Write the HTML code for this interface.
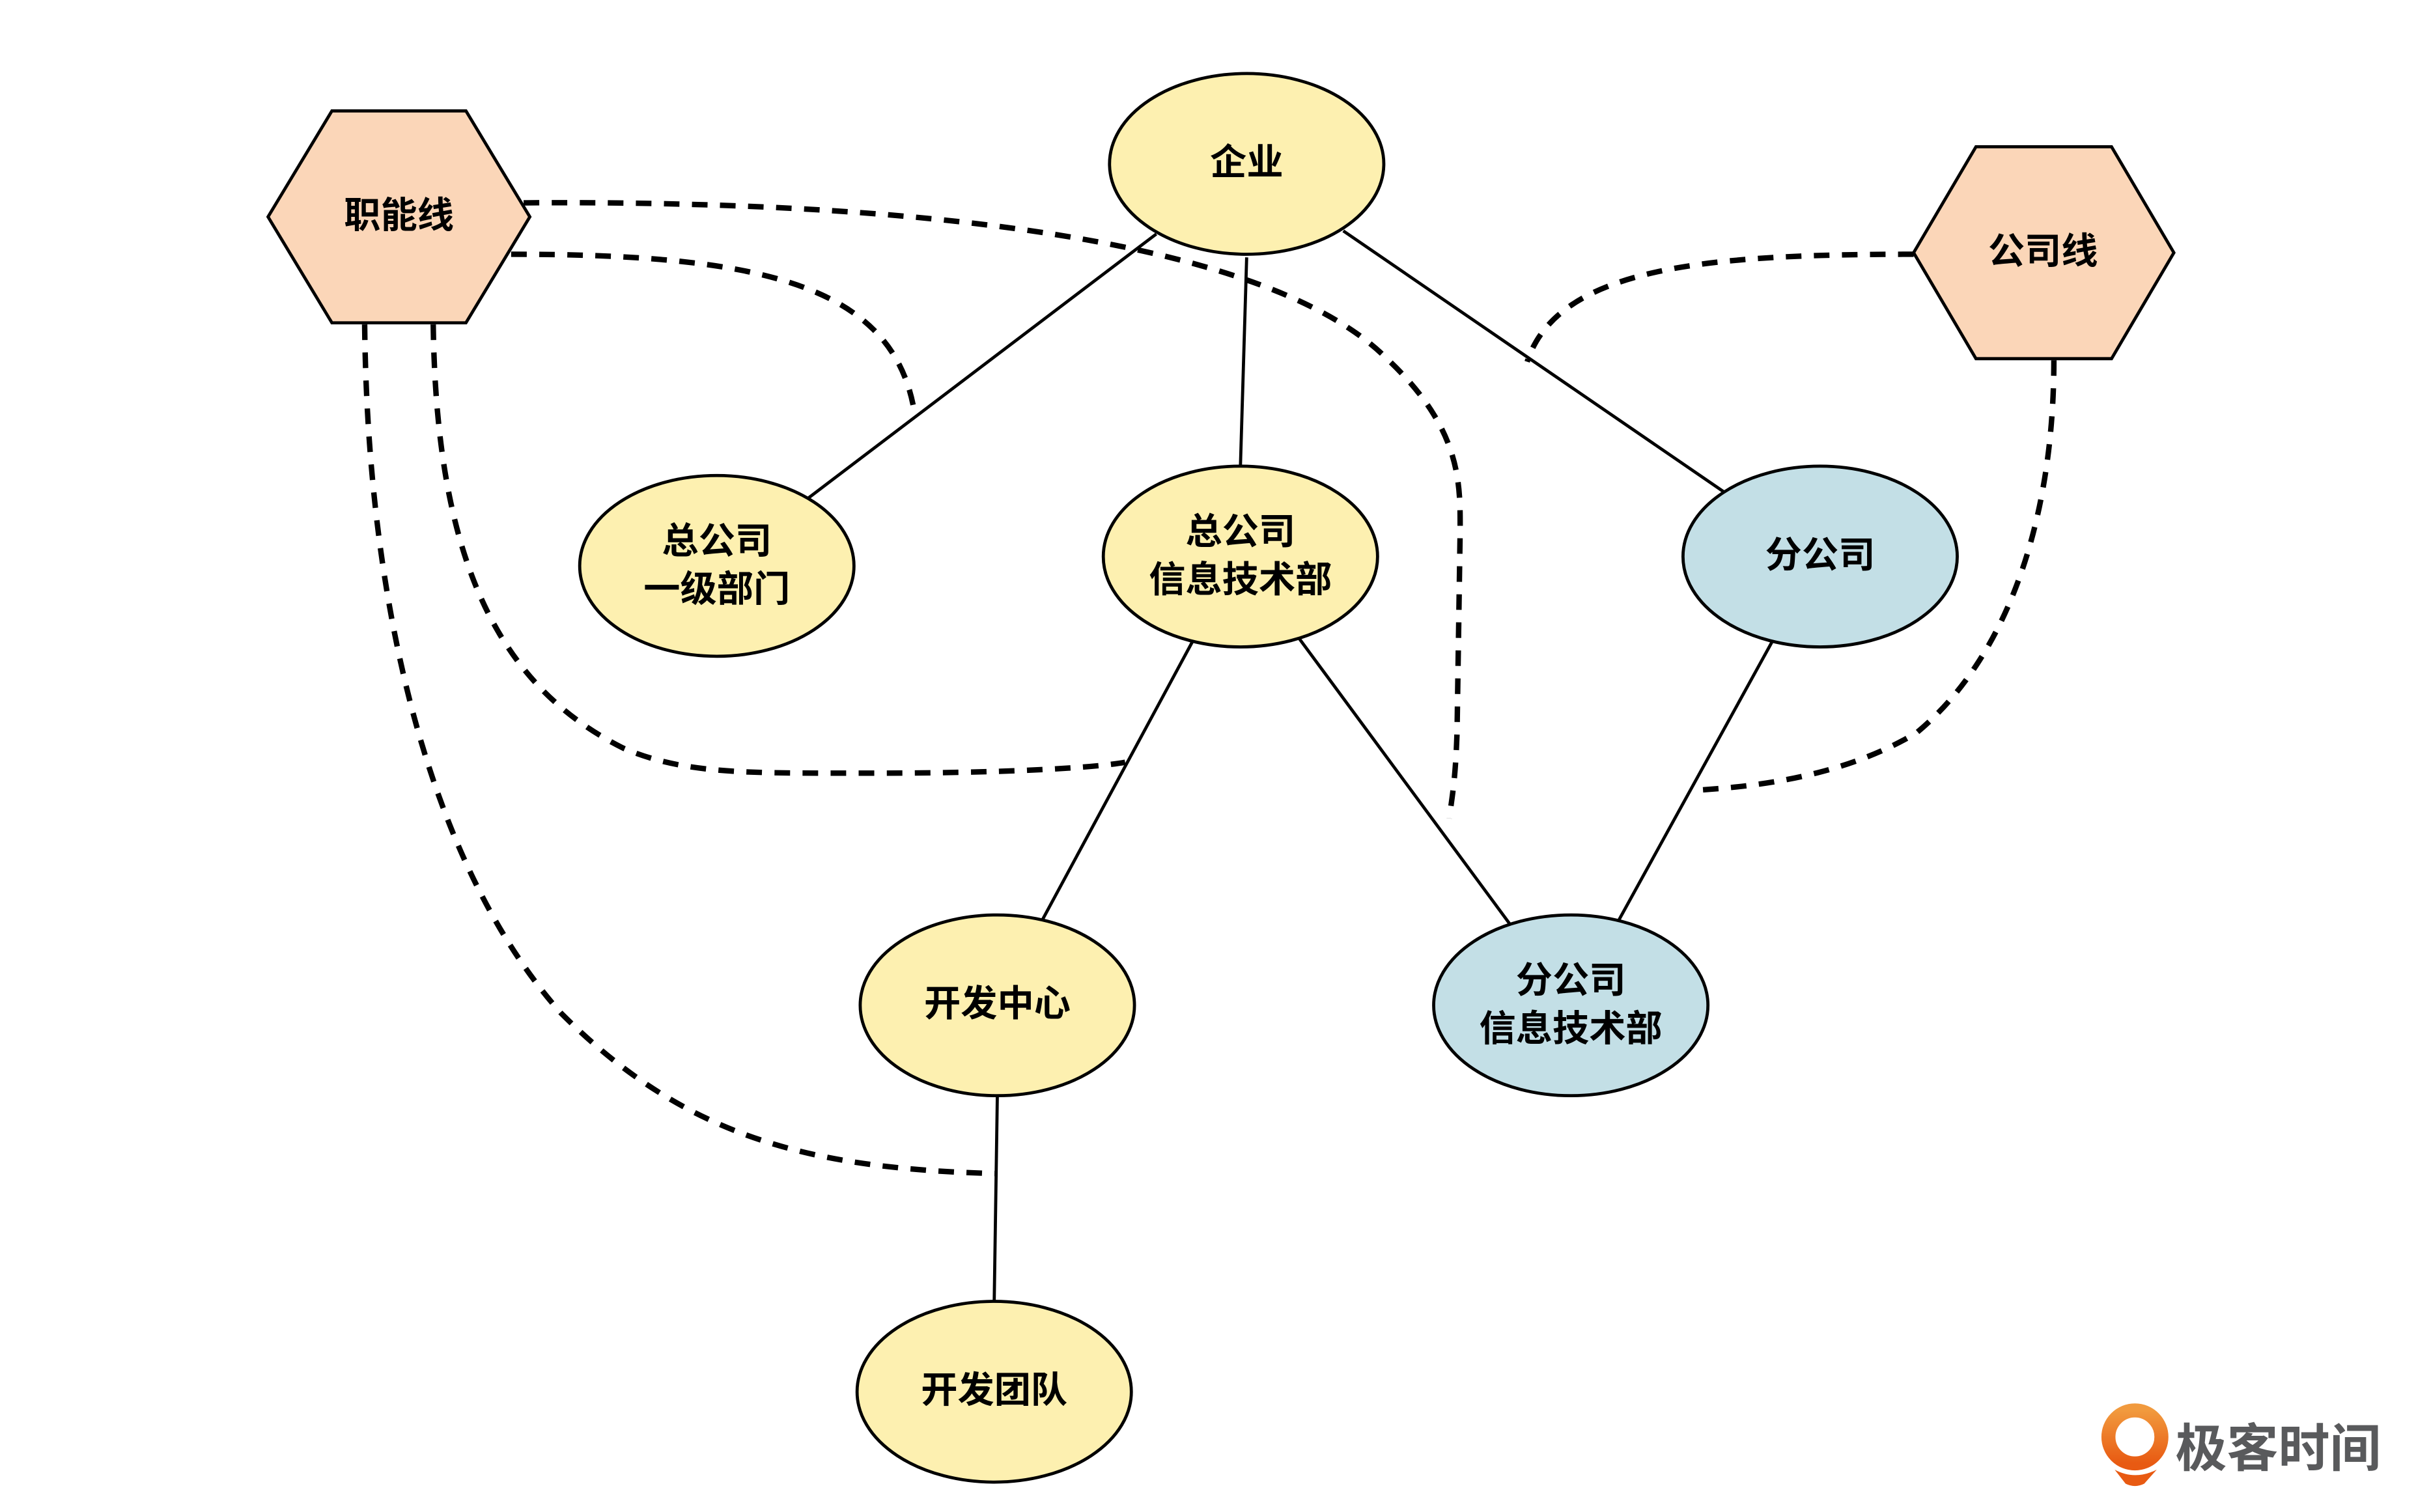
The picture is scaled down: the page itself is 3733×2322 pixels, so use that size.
<!DOCTYPE html>
<html><head><meta charset="utf-8"><style>html,body{margin:0;padding:0;background:#fff}svg{display:block}</style></head>
<body>
<svg width="3733" height="2322" viewBox="0 0 1560 970" xmlns="http://www.w3.org/2000/svg">
<g stroke="#000" stroke-width="2" fill="none">
<line x1="742" y1="150" x2="518" y2="320"/>
<line x1="800" y1="165" x2="796" y2="299"/>
<line x1="862" y1="148" x2="1107" y2="316"/>
<line x1="765" y1="412" x2="669" y2="590"/>
<line x1="834" y1="410" x2="969" y2="593"/>
<line x1="1137" y1="412" x2="1039" y2="590"/>
<line x1="640" y1="703" x2="638" y2="835"/>
</g>
<g stroke="#000" stroke-width="3.5" fill="none" stroke-dasharray="10,8">
<path d="M336,130 C620,128 820,160 890,230 C938,275 937,310 937,340 L935,470 C934,500 932,510 930,525"/>
<path d="M328,163 C480,163 570,180 586,260"/>
<path d="M278,208 C280,360 320,440 400,480 C440,497 480,496 560,496 C640,496 700,493 722,489"/>
<path d="M234,208 C236,400 280,560 360,650 C440,730 520,750 640,753"/>
<path d="M1228,163 C1100,163 1000,170 980,232"/>
<path d="M1318,231 C1318,330 1290,420 1230,470 C1180,500 1120,505 1088,507"/>
</g>
<g stroke="#000" stroke-width="2">
<polygon points="172,139 213,71 299,71 340,139 299,207 213,207" fill="#fbd6b8"/>
<polygon points="1228,162 1268,94 1355,94 1395,162 1355,230 1268,230" fill="#fbd6b8"/>
<ellipse cx="800" cy="105" rx="88" ry="58" fill="#fdf0b0"/>
<ellipse cx="460" cy="363" rx="88" ry="58" fill="#fdf0b0"/>
<ellipse cx="796" cy="357" rx="88" ry="58" fill="#fdf0b0"/>
<ellipse cx="1168" cy="357" rx="88" ry="58" fill="#c3dfe6"/>
<ellipse cx="640" cy="645" rx="88" ry="58" fill="#fdf0b0"/>
<ellipse cx="1008" cy="645" rx="88" ry="58" fill="#c3dfe6"/>
<ellipse cx="638" cy="893" rx="88" ry="58" fill="#fdf0b0"/>
</g>
<g font-family="Liberation Sans, Noto Sans CJK SC, sans-serif" font-size="23.5" font-weight="bold" text-anchor="middle" fill="#000">
<text x="256" y="146">职能线</text>
<text x="1311" y="169">公司线</text>
<text x="800" y="112">企业</text>
<text x="460" y="355">总公司</text>
<text x="460" y="386">一级部门</text>
<text x="796" y="349">总公司</text>
<text x="796" y="380">信息技术部</text>
<text x="1168" y="364">分公司</text>
<text x="640" y="652">开发中心</text>
<text x="1008" y="637">分公司</text>
<text x="1008" y="668">信息技术部</text>
<text x="638" y="900">开发团队</text>
</g>
<defs><linearGradient id="lg" x1="0" y1="0" x2="0" y2="1"><stop offset="0" stop-color="#f19a3e"/><stop offset="1" stop-color="#e85a12"/></linearGradient></defs>
<circle cx="1370" cy="922" r="17" fill="none" stroke="url(#lg)" stroke-width="9"/>
<path d="M1357,943 Q1370,950 1384,943 L1376,952 Q1370,955 1364,952 Z" fill="#e85a12"/>
<text x="1462" y="941" font-family="Liberation Sans, Noto Sans CJK SC, sans-serif" font-size="33" font-weight="bold" fill="#595a5c" text-anchor="middle">极客时间</text>
</svg>
</body></html>
